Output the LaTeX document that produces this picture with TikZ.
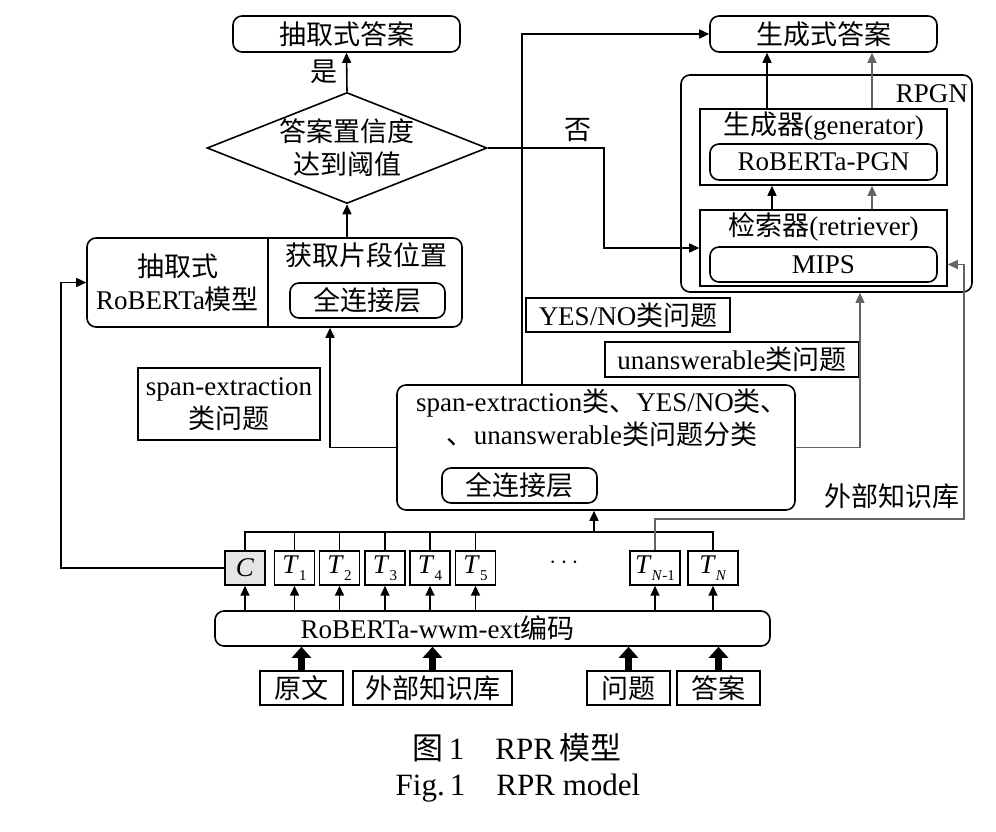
\documentclass[tikz,border=0pt]{standalone}
\usepackage{fontspec}
\setmainfont{Liberation Serif}
\newfontfamily\cjk{Noto Sans CJK SC}
\usetikzlibrary{shapes.geometric,arrows.meta,positioning}
\definecolor{linegray}{RGB}{100,100,100}
\newcommand{\zh}[1]{{\cjk #1}}
\newcommand{\tsub}[1]{\textit{T}\raisebox{-7pt}{\fontsize{15}{15}\selectfont #1}}

\begin{document}
\begin{tikzpicture}[x=1pt,y=-1pt,font=\fontsize{27}{33}\selectfont,
  >={Triangle[width=9pt,length=10pt]}]
\tikzstyle{every node}+=[inner sep=0pt]
\tikzstyle{rbox}=[draw,line width=1.6pt,rounded corners=9pt]
\tikzstyle{sbox}=[draw,line width=1.6pt]
\tikzstyle{tok}=[draw,line width=1.4pt,minimum width=40pt,minimum height=34pt]
\tikzstyle{ln}=[line width=1.6pt]
\tikzstyle{bln}=[line width=1.3pt]
\tikzstyle{gln}=[line width=1.3pt,draw=linegray,->]
\tikzstyle{fat}=[line width=6.5pt,-{Triangle[width=19pt,length=11pt]}]
\useasboundingbox (0,0) rectangle (996,832);
% answers and decision
\node[rbox,minimum width=227pt,minimum height=36pt] (ansE) at (346.5,34) {\zh{抽取式答案}};
\node[draw,diamond,aspect=2.5,line width=1.6pt,inner sep=-6pt,minimum width=280pt,minimum height=111pt,align=center] (dec) at (347,148) {\zh{答案置信度}\\\zh{达到阈值}};
\node[rbox,minimum width=227pt,minimum height=36pt] (ansG) at (823.5,34) {\zh{生成式答案}};
% extractive model
\node[rbox,minimum width=375pt,minimum height=89pt] (ext) at (274.5,282.5) {};
\node[minimum width=181pt,minimum height=89pt,align=center] (extL) at (177.5,282.5) {\zh{抽取式}\\RoBERTa\zh{模型}};
\draw[ln] (extL.north east) -- (extL.south east);
\node[anchor=north] (extT) at (366,242) {\zh{获取片段位置}};
\node[rbox,minimum width=155pt,minimum height=35pt] (fcA) at (367.5,300.5) {\zh{全连接层}};
% RPGN
\node[rbox,minimum width=291pt,minimum height=217pt] (rpgn) at (826.5,183.5) {};
\node[anchor=base east] (rpgnT) at (968,103) {RPGN};
\node[sbox,minimum width=247pt,minimum height=76pt] (gen) at (823.5,147) {};
\node[below=3pt of gen.north] (genT) {\zh{生成器}(generator)};
\node[rbox,minimum width=227pt,minimum height=36pt] (pgn) at (823.5,162) {RoBERTa-PGN};
\node[sbox,minimum width=247pt,minimum height=76pt] (ret) at (823.5,248) {};
\node[below=3pt of ret.north] (retT) {\zh{检索器}(retriever)};
\node[rbox,minimum width=227pt,minimum height=35pt] (mips) at (823.5,264.5) {MIPS};
% question types
\node[sbox,minimum width=204pt,minimum height=34pt] (qYN) at (628,315) {YES/NO\zh{类问题}};
\node[sbox,minimum width=254pt,minimum height=35pt] (qUA) at (732,359.5) {unanswerable\zh{类问题}};
\node[sbox,minimum width=182pt,minimum height=72pt,align=center] (qSE) at (229,404) {span-extraction\\\zh{类问题}};
% classifier
\node[rbox,minimum width=398pt,minimum height=125pt] (cls) at (596,447.5) {};
\node[below=4pt of cls.north,xshift=6pt,align=center] (clsT) {span-extraction\zh{类、}YES/NO\zh{类、}\\\zh{、}unanswerable\zh{类问题分类}};
\node[rbox,minimum width=155pt,minimum height=35pt] (fcB) at (519.5,485.5) {\zh{全连接层}};
% tokens
\node[tok,fill=black!10] (tC) at (245,568) {\textit{C}};
\node[tok] (t1) at (294.5,568) {\tsub{1}};
\node[tok] (t2) at (339.5,568) {\tsub{2}};
\node[tok] (t3) at (385,568) {\tsub{3}};
\node[tok] (t4) at (430,568) {\tsub{4}};
\node[tok] (t5) at (475.5,568) {\tsub{5}};
\node (dots) at (564,563) {$\cdots$};
\node[tok,minimum width=50pt] (tN1) at (655,568) {\tsub{\textit{N}-1}};
\node[tok,minimum width=50pt] (tN) at (713,568) {\tsub{\textit{N}}};
% encoder and inputs
\node[rbox,minimum width=555pt,minimum height=35pt,label={[xshift=-55pt]center:RoBERTa-wwm-ext\zh{编码}}] (enc) at (492.5,628.5) {};
\node[sbox,minimum width=83pt,minimum height=34pt] (inA) at (301.5,688) {\zh{原文}};
\node[sbox,minimum width=159pt,minimum height=34pt] (inB) at (432.5,688) {\zh{外部知识库}};
\node[sbox,minimum width=83pt,minimum height=34pt] (inC) at (628.5,688) {\zh{问题}};
\node[sbox,minimum width=83pt,minimum height=34pt] (inD) at (718.5,688) {\zh{答案}};
% caption
\node[font=\fontsize{31}{36}\selectfont] (capZ) at (517,748) {\zh{图}\,1\quad RPR\,\zh{模型}};
\node[font=\fontsize{31}{36}\selectfont] (capE) at (518,788) {Fig.\,1\quad RPR model};
% connectors
\draw[ln,->] (dec.north) -- (ansE.south) node[midway,left=8pt] {\zh{是}};
\draw[ln,->] (dec.south |- ext.north) -- (dec.south);
\draw[ln,->] (dec.east) -- node[pos=0.78,above=6pt] {\zh{否}} ++(116,0) |- (ret.west);
\draw[ln,->] ([xshift=-56.5pt]gen.north) -- ([xshift=-56.5pt]gen.north |- ansG.south);
\draw[gln] ([xshift=48.5pt]gen.north) -- ([xshift=48.5pt]gen.north |- ansG.south);
\draw[ln,->] ([xshift=-51.5pt]ret.north) -- ([xshift=-51.5pt]ret.north |- gen.south);
\draw[gln] ([xshift=48.5pt]ret.north) -- ([xshift=48.5pt]ret.north |- gen.south);
\draw[ln,->] (cls.west) -| ([xshift=55.5pt]ext.south);
\draw[ln,->] ([xshift=-74pt]cls.north) |- (ansG.west);
\draw[gln] (cls.east) -| ([xshift=33.5pt]rpgn.south);
\coordinate (bus) at (594,532);
\draw[bln] (tC.north) |- (bus) -| (tN.north);
\foreach \t in {t1,t2,t3,t4,t5,tN1}
  \draw[bln] (\t.north) -- (\t.north |- bus);
\draw[ln,->] (bus) -- (cls.south -| bus);
\coordinate (kbturn) at (964,519);
\draw[gln] (tN1.north) |- (kbturn) |- (mips.east -| ret.east);
\node[anchor=south east] (kbT) at (960,509) {\zh{外部知识库}};
\coordinate (cturn) at (61,568);
\draw[ln,->] (tC.west) -- (cturn) |- (ext.west);
\foreach \t in {tC,t1,t2,t3,t4,t5,tN1,tN}
  \draw[ln,->] (\t.south |- enc.north) -- (\t.south);
\foreach \i in {inA,inB,inC,inD}
  \draw[fat] (\i.north) -- (\i.north |- enc.south);
\end{tikzpicture}
\end{document}
